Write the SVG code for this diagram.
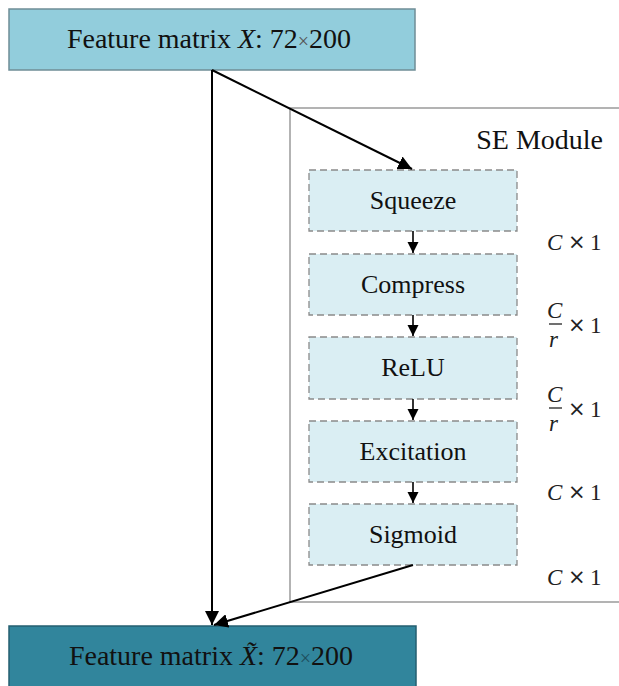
<svg xmlns="http://www.w3.org/2000/svg" width="619" height="686" viewBox="0 0 619 686">
<style>
.serif{font-family:"Liberation Serif","Times New Roman",serif;fill:#111}
.big{font-size:28px}
.mid{font-size:26px}
.math{font-family:"Liberation Serif",serif;font-style:italic;font-size:23px;fill:#222}
.mathr{font-family:"DejaVu Sans","Liberation Sans",sans-serif;font-size:21px;fill:#222}
.one{font-family:"Liberation Serif",serif;font-size:23px;fill:#222}
.inner{fill:#DAEEF3;stroke:#8a8a8a;stroke-width:1.3;stroke-dasharray:7,4}
.conn{stroke:#000;fill:none}
</style>
<defs>
<marker id="ah" viewBox="0 0 10 10" refX="10" refY="5" markerWidth="7" markerHeight="7" markerUnits="strokeWidth" orient="auto">
<path d="M0,0 L10,5 L0,10 z" fill="#000"/>
</marker>
<marker id="ahs" viewBox="0 0 10 10" refX="10" refY="5" markerWidth="7" markerHeight="7" markerUnits="strokeWidth" orient="auto">
<path d="M0,0 L10,5 L0,10 z" fill="#000"/>
</marker>
</defs>
<rect width="619" height="686" fill="#fff"/>

<g id="se-module">
<rect x="290" y="108" width="335" height="494" fill="#fff" stroke="#9a9a9a" stroke-width="1.5"/>
<text class="serif big" x="603" y="149" text-anchor="end">SE Module</text>
</g>

<g id="input">
<rect x="9" y="9" width="406" height="61" fill="#92CDDC" stroke="#6f8d96" stroke-width="1.5"/>
<text class="serif big" x="209" y="48" text-anchor="middle">Feature matrix <tspan font-style="italic">X</tspan>: 72<tspan font-size="20" fill="#555">×</tspan>200</text>
</g>

<g id="output">
<rect x="9" y="626" width="407" height="70" fill="#31859C" stroke="#245f70" stroke-width="1.5"/>
<text class="serif big" x="211" y="665" text-anchor="middle">Feature matrix <tspan font-style="italic">X̃</tspan>: 72<tspan font-size="20" fill="#1e4f5c">×</tspan>200</text>
</g>

<g id="squeeze">
<rect class="inner" x="309" y="170" width="208" height="61"/>
<text class="serif mid" x="413" y="209" text-anchor="middle">Squeeze</text>
</g>
<g id="compress">
<rect class="inner" x="309" y="254" width="208" height="61"/>
<text class="serif mid" x="413" y="293" text-anchor="middle">Compress</text>
</g>
<g id="relu">
<rect class="inner" x="309" y="337" width="208" height="62"/>
<text class="serif mid" x="413" y="376" text-anchor="middle">ReLU</text>
</g>
<g id="excitation">
<rect class="inner" x="309" y="421" width="208" height="61"/>
<text class="serif mid" x="413" y="460" text-anchor="middle">Excitation</text>
</g>
<g id="sigmoid">
<rect class="inner" x="309" y="504" width="208" height="61"/>
<text class="serif mid" x="413" y="543" text-anchor="middle">Sigmoid</text>
</g>

<g id="dims">
<text class="math" x="547" y="250">C</text><text class="mathr" x="568" y="249">×</text><text class="one" x="590" y="250">1</text>
<text class="math" x="547" y="318">C</text>
<line x1="549" y1="324" x2="562" y2="324" stroke="#222" stroke-width="1.3"/>
<text class="math" x="549" y="347">r</text>
<text class="mathr" x="568" y="332">×</text><text class="one" x="590" y="333">1</text>
<text class="math" x="547" y="402">C</text>
<line x1="549" y1="408" x2="562" y2="408" stroke="#222" stroke-width="1.3"/>
<text class="math" x="549" y="431">r</text>
<text class="mathr" x="568" y="416">×</text><text class="one" x="590" y="417">1</text>
<text class="math" x="547" y="500">C</text><text class="mathr" x="568" y="499">×</text><text class="one" x="590" y="500">1</text>
<text class="math" x="547" y="585">C</text><text class="mathr" x="568" y="584">×</text><text class="one" x="590" y="585">1</text>
</g>

<g id="connectors">
<line class="conn" x1="212" y1="70" x2="212" y2="625" stroke-width="2" marker-end="url(#ah)"/>
<line class="conn" x1="212" y1="70" x2="412" y2="169" stroke-width="2" marker-end="url(#ah)"/>
<line class="conn" x1="413" y1="565" x2="214" y2="625" stroke-width="2" marker-end="url(#ah)"/>
<line class="conn" x1="413" y1="231" x2="413" y2="253" stroke-width="1.6" marker-end="url(#ahs)"/>
<line class="conn" x1="413" y1="315" x2="413" y2="336" stroke-width="1.6" marker-end="url(#ahs)"/>
<line class="conn" x1="413" y1="399" x2="413" y2="420" stroke-width="1.6" marker-end="url(#ahs)"/>
<line class="conn" x1="413" y1="482" x2="413" y2="503" stroke-width="1.6" marker-end="url(#ahs)"/>
</g>
</svg>
